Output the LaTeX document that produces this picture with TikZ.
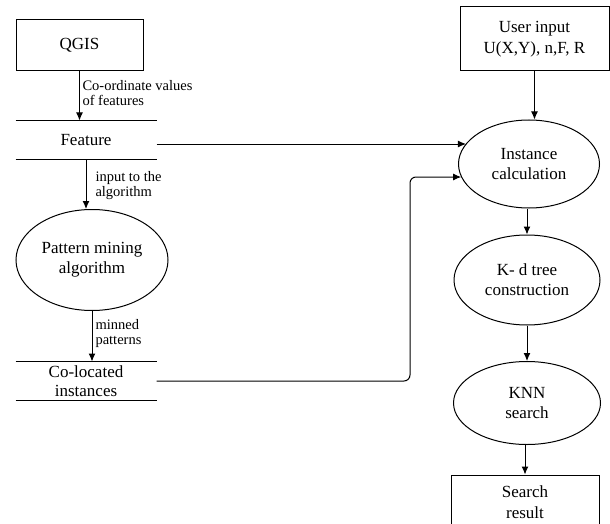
\documentclass[tikz,border=0pt]{standalone}
\usepackage{fontspec}
\setmainfont{Liberation Serif}
\usetikzlibrary{shapes.geometric, arrows.meta}

\begin{document}
\begin{tikzpicture}[x=1pt, y=-1pt, >={Latex[length=8pt, width=7pt]}, line width=1pt,
		box/.style={draw, rectangle, inner sep=0pt, align=center, font=\fontsize{17}{21}\selectfont},
		proc/.style={draw, ellipse, inner sep=0pt, align=center, font=\fontsize{17}{20}\selectfont},
		store/.style={rectangle, minimum width=140pt, minimum height=38pt, inner sep=0pt,
			align=center, font=\fontsize{17}{19}\selectfont},
		lbl/.style={anchor=west, align=left, inner sep=0pt, font=\fontsize{14.5}{15}\selectfont}]
		\useasboundingbox (0,0) rectangle (610,524);

		% left column
		\node[box, minimum width=127pt, minimum height=51pt] (qgis) at (79.5, 45.5) {QGIS};
		\node[store] (feat) at (86, 140) {Feature};
		\node[proc, minimum width=152pt, minimum height=101pt] (pat) at (92, 260) {Pattern mining\\algorithm};
		\node[store] (coloc) at (86, 381) {Co-located\\instances};

		% right column
		\node[box, minimum width=149pt, minimum height=64pt] (user) at (534.5, 39) {User input\\U(X,Y), n,F, R};
		\node[proc, minimum width=141pt, minimum height=88pt] (inst) at (529, 164) {Instance\\calculation};
		\node[proc, minimum width=146pt, minimum height=90pt] (kd) at (527, 280) {K- d tree\\construction};
		\node[proc, minimum width=147pt, minimum height=83pt] (knn) at (527, 403) {KNN\\search};
		\node[box, minimum width=148pt, minimum height=54pt] (res) at (525, 502) {Search\\result};

		\node[lbl] (l1) at (82, 93) {Co-ordinate values\\of features};
		\node[lbl] (l2) at (95, 186) {input to the\\algorithm};
		\node[lbl] (l3) at (95, 334) {minned\\patterns};

		\foreach \s in {feat, coloc} {
				\draw (\s.north west) -- (\s.north east);
				\draw (\s.south west) -- (\s.south east);
			}

		\draw[->] (qgis.south) -- (qgis.south |- feat.north);
		\draw[->] (feat.south) -- (feat.south |- pat.north);
		\draw[->] (pat.south) -- (pat.south |- coloc.north);
		\draw[->] (user.south) -- (user.south |- inst.north);

		\foreach \a/\b in {inst/kd, kd/knn, knn/res} {
				\draw[->] (\b.north |- \a.south) -- (\b.north);
			}

		\draw[->] ([yshift=-4pt]feat.east) -- ([yshift=-4pt]feat.east -| inst.162);
		\coordinate (turn) at (410, 177);
		\draw[->, rounded corners=6pt] (coloc.east) -| (turn) -- (turn -| inst.191);
	\end{tikzpicture}
\end{document}
